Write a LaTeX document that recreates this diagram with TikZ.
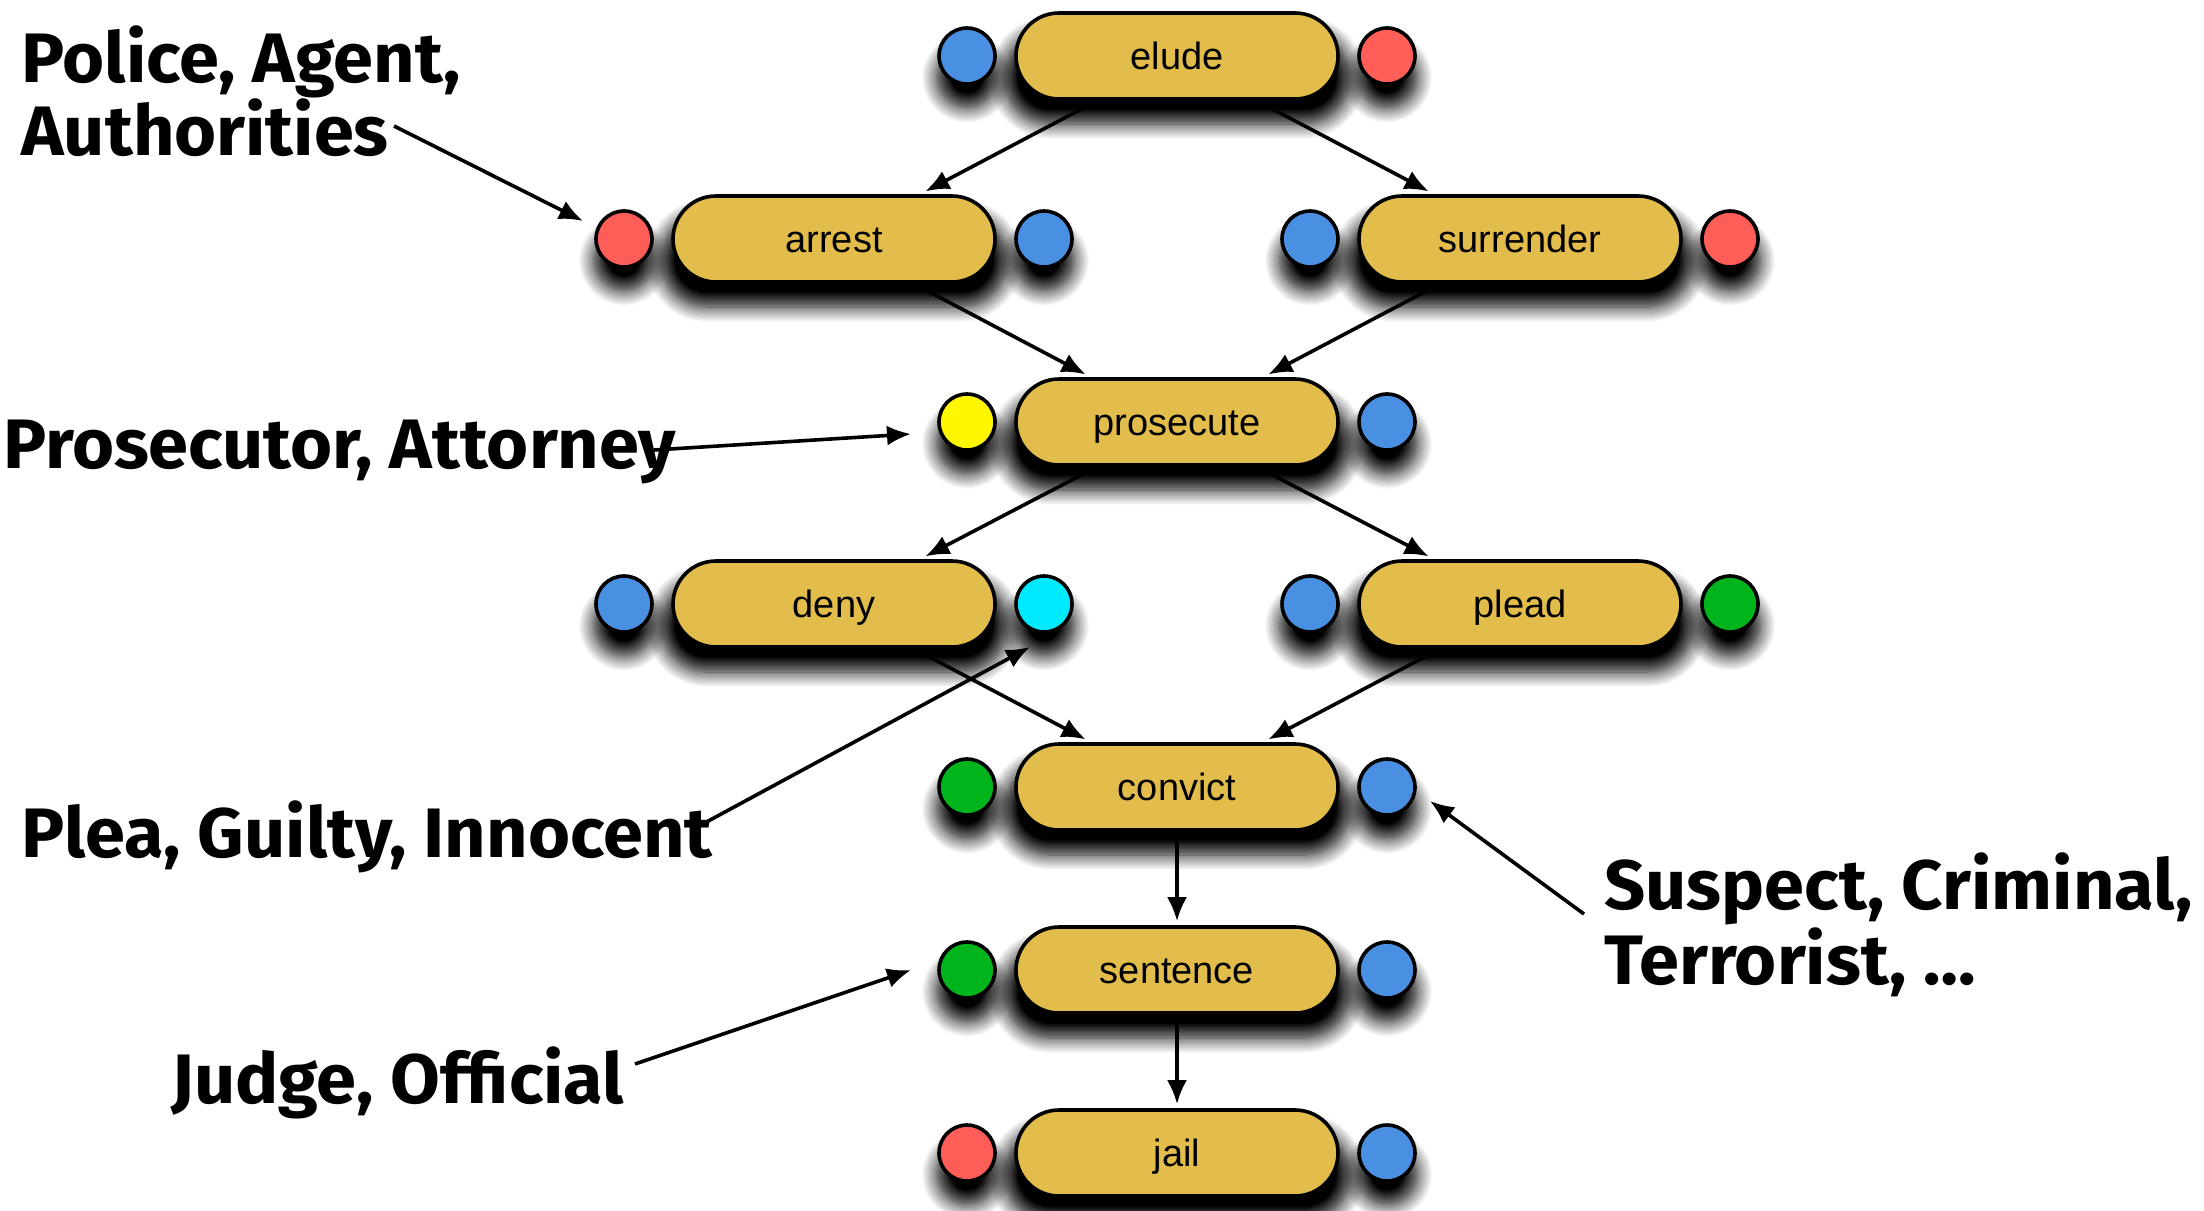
\documentclass[tikz,border=0pt]{standalone}
\usepackage{fontspec}
\setmainfont{Liberation Sans}
\newfontfamily\calloutfont{Fira Sans}[FakeStretch=1.03]
\usetikzlibrary{arrows.meta,shadows.blur,calc}
\pgfdeclarelayer{background}
\pgfsetlayers{background,main}

\definecolor{pillgold}{RGB}{227,189,76}
\definecolor{roleblue}{RGB}{74,144,226}
\definecolor{rolered}{RGB}{255,94,88}
\definecolor{roleyellow}{RGB}{255,247,0}
\definecolor{rolecyan}{RGB}{0,234,255}
\definecolor{rolegreen}{RGB}{0,180,28}

\begin{document}
\begin{tikzpicture}[x=0.5pt,y=-0.5pt,
  softshadow/.style={blur shadow={shadow xshift=0pt, shadow yshift=-10pt,
      shadow blur radius=7pt, shadow blur steps=12, shadow opacity=100,
      shadow scale=1.08}},
  pill/.style={draw=black, line width=1.8pt, fill=pillgold,
      rounded corners=21.5pt, minimum width=161pt, minimum height=43pt,
      inner sep=0pt, text height=15pt, text depth=2pt,
      font=\fontsize{19}{22}\selectfont, softshadow},
  role/.style={circle, draw=black, line width=1.8pt, minimum size=28pt,
      inner sep=0pt, softshadow},
  flow/.style={line width=1.8pt, -{Latex[length=12pt,width=10pt]}},
  callout/.style={inner sep=0pt, anchor=base west,
      font=\calloutfont\bfseries\fontsize{35}{40}\selectfont},
]
\useasboundingbox (0,0) rectangle (2204,1210);

% actions
\node[pill] (elude)     at (1177,56)  {elude};
\node[pill] (arrest)    at (834,239)  {arrest};
\node[pill] (surrender) at (1520,239) {surrender};
\node[pill] (prosecute) at (1177,422) {prosecute};
\node[pill] (deny)      at (834,604)  {deny};
\node[pill] (plead)     at (1520,604) {plead};
\node[pill] (convict)   at (1177,787) {convict};
\node[pill] (sentence)  at (1177,970) {sentence};
\node[pill] (jail)      at (1177,1153){jail};

% role slots
\node[role, fill=roleblue]   (eludeL)     at (967,56)   {};
\node[role, fill=rolered]    (eludeR)     at (1387,56)  {};
\node[role, fill=rolered]    (arrestL)    at (624,239)  {};
\node[role, fill=roleblue]   (arrestR)    at (1044,239) {};
\node[role, fill=roleblue]   (surrenderL) at (1310,239) {};
\node[role, fill=rolered]    (surrenderR) at (1730,239) {};
\node[role, fill=roleyellow] (prosecuteL) at (967,422)  {};
\node[role, fill=roleblue]   (prosecuteR) at (1387,422) {};
\node[role, fill=roleblue]   (denyL)      at (624,604)  {};
\node[role, fill=rolecyan]   (denyR)      at (1044,604) {};
\node[role, fill=roleblue]   (pleadL)     at (1310,604) {};
\node[role, fill=rolegreen]  (pleadR)     at (1730,604) {};
\node[role, fill=rolegreen]  (convictL)   at (967,787)  {};
\node[role, fill=roleblue]   (convictR)   at (1387,787) {};
\node[role, fill=rolegreen]  (sentenceL)  at (967,970)  {};
\node[role, fill=roleblue]   (sentenceR)  at (1387,970) {};
\node[role, fill=rolered]    (jailL)      at (967,1153) {};
\node[role, fill=roleblue]   (jailR)      at (1387,1153){};

% process flow, kept behind the actions
\begin{pgfonlayer}{background}
  \draw[flow, shorten >=3pt] ([xshift=-40pt]elude.south) -- ([xshift=43pt]arrest.north);
  \draw[flow, shorten >=3pt] ([xshift=40pt]elude.south) -- ([xshift=-43pt]surrender.north);
  \draw[flow, shorten >=3pt] ([xshift=40pt]arrest.south) -- ([xshift=-43pt]prosecute.north);
  \draw[flow, shorten >=3pt] ([xshift=-40pt]surrender.south) -- ([xshift=43pt]prosecute.north);
  \draw[flow, shorten >=3pt] ([xshift=-40pt]prosecute.south) -- ([xshift=43pt]deny.north);
  \draw[flow, shorten >=3pt] ([xshift=40pt]prosecute.south) -- ([xshift=-43pt]plead.north);
  \draw[flow, shorten >=3pt] ([xshift=40pt]deny.south) -- ([xshift=-43pt]convict.north);
  \draw[flow, shorten >=3pt] ([xshift=-40pt]plead.south) -- ([xshift=43pt]convict.north);
  \draw[flow, shorten >=2pt] (convict.south) -- (sentence.north);
  \draw[flow, shorten >=2pt] (sentence.south) -- (jail.north);
\end{pgfonlayer}

% role callouts
\node[callout] (police1) at (21,82)   {Police, Agent,};
\node[callout] (police2) at (21,155)  {Authorities};
\node[callout] (prosec)  at (3,468)   {Prosecutor, Attorney};
\node[callout] (plea)    at (21,857)  {Plea, Guilty, Innocent};
\node[callout] (suspect1) at (1604,909) {Suspect, Criminal,};
\node[callout] (suspect2) at (1604,984) {Terrorist, \ldots};
\node[callout] (judge)   at (171,1103) {Judge, Official};

\coordinate (policeTail)  at (394,126);
\coordinate (prosecTail)  at (654,450);
\coordinate (pleaTail)    at (699,826);
\coordinate (suspectTail) at (1584,914);
\coordinate (judgeTail)   at (635,1064);

\draw[flow] (policeTail)  -- ($(arrestL)+(-41,-18)$);
\draw[flow] (prosecTail)  -- ($(prosecuteL)+(-56,12)$);
\draw[flow] (pleaTail)    -- ($(denyR)+(-14,43)$);
\draw[flow] (suspectTail) -- ($(convictR)+(43,14)$);
\draw[flow] (judgeTail)   -- ($(sentenceL)+(-56,0)$);
\end{tikzpicture}
\end{document}
